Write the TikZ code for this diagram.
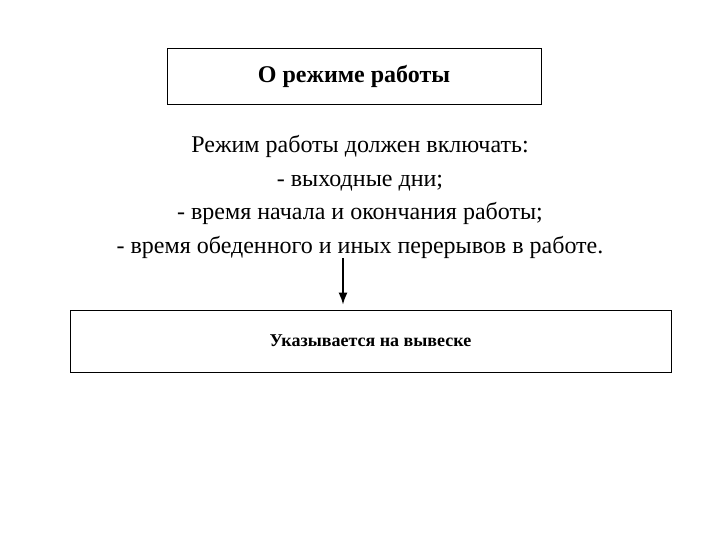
\documentclass[tikz,border=0pt]{standalone}
\usepackage{fontspec}
\setmainfont{Liberation Serif}
\usetikzlibrary{arrows.meta,positioning}
\begin{document}
\begin{tikzpicture} [
        x=1pt, y=-1pt,
        titlebox/.style={draw=black, rectangle, thick, fill=white, inner sep=0pt},
        align=center ]
    \useasboundingbox (0,0) rectangle (720,540);
    \node[titlebox, minimum width=374pt, minimum height=56pt, font=\fontsize{24}{26}\selectfont\bfseries] (head) at (354,76) {О режиме работы};
    \node[font=\fontsize{24}{33.5}\selectfont, anchor=north] (list) at (360,132) {Режим работы должен включать:\\
        - выходные дни;\\
        - время начала и окончания работы;\\
        - время обеденного и иных перерывов в работе.};
    \node[titlebox, minimum width=601pt, minimum height=62pt, font=\fontsize{18}{20}\selectfont\bfseries] (sign) at (370.5,341) {Указывается на вывеске};
    \coordinate (start) at (343,258);
    \draw[line width=1.6pt, -{Latex[length=12pt,width=9pt]}] (start) -- ([yshift=5pt]start |- sign.north);
    \end{tikzpicture}
\end{document}
